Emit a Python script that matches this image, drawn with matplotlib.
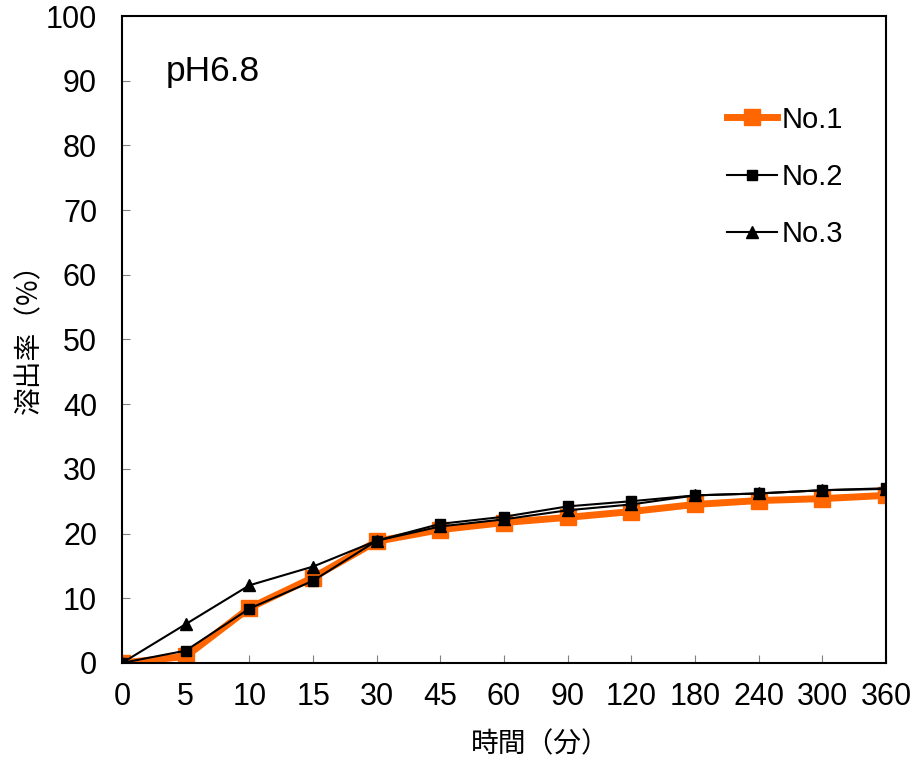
import numpy as np
import matplotlib.pyplot as plt

plt.rcParams['font.family'] = ['Liberation Sans', 'Noto Sans CJK JP', 'DejaVu Sans']

# Data
times = ["0", "5", "10", "15", "30", "45", "60", "90", "120", "180", "240", "300", "360"]
no1 = [0, 1.0, 8.5, 13.2, 18.8, 20.6, 21.7, 22.5, 23.4, 24.5, 25.1, 25.4, 25.9]
no2 = [0, 1.9, 8.4, 12.7, 18.9, 21.5, 22.6, 24.2, 25.0, 25.9, 26.2, 26.7, 27.0]
no3 = [0, 6.0, 12.0, 14.9, 18.9, 21.1, 22.2, 23.6, 24.5, 25.9, 26.2, 26.7, 26.9]

fig = plt.figure(figsize=(9.11, 7.62), dpi=100)
ax = fig.add_axes([0.134, 0.130, 0.8386, 0.849])

x = np.arange(len(times))
ax.plot(x, no1, color='#FF6600', lw=5, marker='s', ms=12, label='No.1', zorder=2)
ax.plot(x, no3, color='black', lw=1.5, marker='^', ms=8, label='No.3', zorder=3)
ax.plot(x, no2, color='black', lw=1.5, marker='s', ms=7, label='No.2', zorder=4)

ax.set_xlim(0, len(times) - 1)
ax.set_ylim(0, 100)
ax.set_xticks(x)
ax.set_xticklabels(times)
ax.set_yticks(np.arange(0, 101, 10))
ax.tick_params(direction='in', length=6, color='#808080', labelsize=22)
ax.tick_params(axis='y', pad=18)
ax.tick_params(axis='x', pad=14)
for s in ax.spines.values():
    s.set_linewidth(1.5)

ax.set_xlabel('時間（分）', fontsize=20, family=['Noto Sans CJK JP'], labelpad=12, x=0.548)
ax.set_ylabel('溶出率（%）', fontsize=20, family=['Noto Sans CJK JP'], labelpad=1, y=0.512)

ax.text(0.057, 0.914, 'pH6.8', transform=ax.transAxes, fontsize=25.5, ha='left', va='center')

h, l = ax.get_legend_handles_labels()
order = [0, 2, 1]
ax.legend([h[i] for i in order], [l[i] for i in order], loc='upper left',
          bbox_to_anchor=(0.758, 0.902), frameon=False, fontsize=21,
          labelspacing=1.0, handlelength=1.7, handletextpad=0.15)

fig.savefig('out.png', dpi=100)
